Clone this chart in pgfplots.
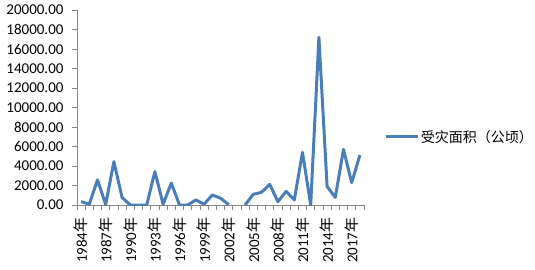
\documentclass[border=0pt]{standalone}
\usepackage{pgfplots}
\pgfplotsset{compat=1.18}
\usepackage{fontspec}
\setmainfont{Carlito}
\newfontfamily\cjk{Noto Sans CJK SC}
\definecolor{xlblue}{HTML}{4A7EBB}
\definecolor{axgray}{HTML}{868686}
\begin{document}
\begin{tikzpicture}
\path[use as bounding box] (-77pt,-64pt) rectangle (458pt,205pt);
\begin{axis}[
  at={(0pt,0pt)}, anchor=south west,
  scale only axis, width=287pt, height=195pt,
  xmin=-0.5, xmax=34.5, ymin=0, ymax=20000,
  axis x line*=bottom, axis y line*=left,
  axis line style={draw=axgray, line width=0.75pt},
  every tick/.style={draw=axgray, line width=0.75pt},
  tick align=outside,
  xtick={0,3,...,33},
  xticklabels={1984{\cjk 年},1987{\cjk 年},1990{\cjk 年},1993{\cjk 年},1996{\cjk 年},1999{\cjk 年},2002{\cjk 年},2005{\cjk 年},2008{\cjk 年},2011{\cjk 年},2014{\cjk 年},2017{\cjk 年}},
  major x tick style={draw=none},
  minor xtick={-0.5,0.5,...,34.5},
  minor tick length=5pt,
  ytick={0,2000,...,20000},
  major tick length=5pt,
  xticklabel style={rotate=90, anchor=east, xshift=-4pt, font=\fontsize{15}{17}\selectfont},
  yticklabel style={xshift=-5pt, font=\fontsize{15}{17}\selectfont},
  /pgf/number format/.cd, fixed, fixed zerofill, precision=2, 1000 sep={}, assume math mode=true,
  /pgfplots/.cd,
  scaled y ticks=false,
  unbounded coords=jump,
  legend style={at={(1.072,0.349)}, anchor=west, draw=none, fill=none, inner sep=0pt,
    font=\fontsize{14}{16}\selectfont\cjk,
    nodes={inner xsep=1pt}},
  legend image code/.code={\draw[#1] (0pt,0pt) -- (32pt,0pt);},
]
\addplot[xlblue, line width=3pt, line join=round] coordinates {
(0,350) (1,80) (2,2580) (3,60) (4,4450) (5,760) (6,0) (7,0) (8,0)
(9,3430) (10,80) (11,2250) (12,0) (13,0) (14,520) (15,80) (16,1030)
(17,700) (18,40) (19,nan) (20,0) (21,1100) (22,1300) (23,2120)
(24,340) (25,1400) (26,520) (27,5400) (28,0) (29,17200) (30,1900)
(31,780) (32,5700) (33,2290) (34,5120)
};
\addlegendentry{受灾面积（公顷）}
\end{axis}
\end{tikzpicture}
\end{document}
